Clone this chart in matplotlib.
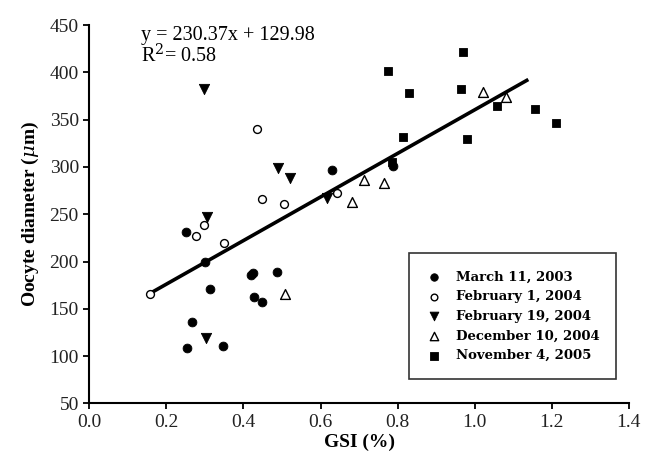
import matplotlib
matplotlib.use("Agg")
import matplotlib.pyplot as plt
import numpy as np

# --- data ---
mar2003_x = [0.251, 0.301, 0.419, 0.425, 0.486, 0.313, 0.428, 0.449, 0.267, 0.253, 0.346, 0.630, 0.789]
mar2003_y = [231.5, 199.8, 185.7, 188.2, 188.9, 170.6, 162.2, 157.2, 136.4, 108.2, 111.0, 296.7, 301.0]

feb1_2004_x = [0.157, 0.434, 0.447, 0.506, 0.642, 0.298, 0.276, 0.349]
feb1_2004_y = [165.3, 340.0, 265.7, 260.5, 272.7, 238.6, 227.0, 219.2]

feb19_2004_x = [0.298, 0.489, 0.522, 0.616, 0.305, 0.303]
feb19_2004_y = [382.0, 298.5, 288.6, 267.4, 246.7, 118.8]

dec2004_x = [0.713, 0.764, 0.682, 0.508, 1.022, 1.081]
dec2004_y = [286.2, 283.3, 262.6, 165.3, 378.9, 373.6]

nov2005_x = [0.970, 0.776, 0.830, 0.964, 1.059, 1.157, 1.212, 0.815, 0.979, 0.786]
nov2005_y = [421.1, 401.4, 377.8, 382.4, 364.7, 360.9, 346.7, 331.9, 329.5, 305.5]

fit_slope = 230.37
fit_intercept = 129.98
fit_x = [0.157, 1.135]

x_ticks = [0.0, 0.2, 0.4, 0.6, 0.8, 1.0, 1.2, 1.4]
y_ticks = [50, 100, 150, 200, 250, 300, 350, 400, 450]

labels = ["March 11, 2003", "February 1, 2004", "February 19, 2004",
          "December 10, 2004", "November 4, 2005"]

plt.rcParams['font.family'] = ['Liberation Serif', 'DejaVu Serif']
plt.rcParams['mathtext.fontset'] = 'dejavuserif'

fig = plt.figure(figsize=(6.47, 4.70), dpi=100)
ax = fig.add_axes([0.138, 0.1417, 0.834, 0.8051])

fx = np.array(fit_x)
ax.plot(fx, fit_slope * fx + fit_intercept, color='black', lw=2.6, zorder=2)

ax.scatter(mar2003_x, mar2003_y, marker='o', s=40, facecolor='black', edgecolor='black', lw=0.6, zorder=3, label=labels[0])
ax.scatter(feb1_2004_x, feb1_2004_y, marker='o', s=32, facecolor='white', edgecolor='black', lw=1.0, zorder=3, label=labels[1])
ax.scatter(feb19_2004_x, feb19_2004_y, marker='v', s=55, facecolor='black', edgecolor='black', lw=0.6, zorder=3, label=labels[2])
ax.scatter(dec2004_x, dec2004_y, marker='^', s=50, facecolor='white', edgecolor='black', lw=1.0, zorder=3, label=labels[3])
ax.scatter(nov2005_x, nov2005_y, marker='s', s=40, facecolor='black', edgecolor='black', lw=0.6, zorder=3, label=labels[4])

ax.set_xlim(0, 1.4)
ax.set_ylim(50, 450)
ax.set_xticks(x_ticks)
ax.set_xticklabels([f"{t:.1f}" for t in x_ticks])
ax.set_yticks(y_ticks)
ax.tick_params(axis='both', direction='out', length=4, width=1.3, labelsize=14, colors='black', labelcolor='#222222')
for s in ['top', 'right']:
    ax.spines[s].set_visible(False)
for s in ['left', 'bottom']:
    ax.spines[s].set_linewidth(1.5)

ax.set_xlabel("GSI (%)", fontsize=14, fontweight='bold', labelpad=2)
ax.set_ylabel(r"Oocyte diameter ($\mu$m)", fontsize=14, fontweight='bold', labelpad=6)

ax.text(0.096, 0.998, f"y = {fit_slope}x + {fit_intercept}\nR$^{{2}}$= 0.58", transform=ax.transAxes,
        fontsize=14.5, va='top', ha='left', linespacing=1.0)

leg = ax.legend(loc='lower right', bbox_to_anchor=(0.977, 0.064), frameon=True, fancybox=False,
                edgecolor='black', borderpad=1.3, labelspacing=0.5,
                handletextpad=1.0, handlelength=1.2, borderaxespad=0, markerscale=0.85,
                prop={'family': 'DejaVu Serif', 'size': 9.5, 'weight': 'bold'})
leg.get_frame().set_linewidth(1.2)

fig.savefig("out.png", dpi=100)
